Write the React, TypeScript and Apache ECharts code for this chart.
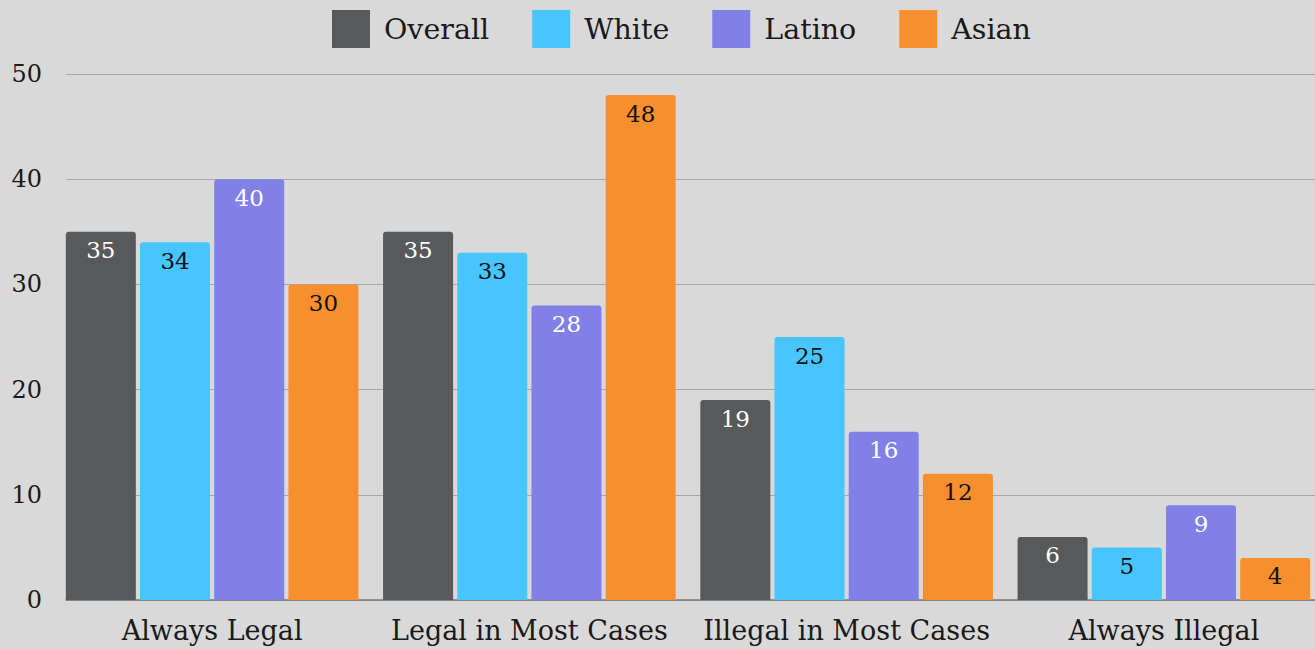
import React, { useEffect, useRef } from "react";
import * as echarts from "echarts";

const categories = ["Always Legal", "Legal in Most Cases", "Illegal in Most Cases", "Always Illegal"];
const seriesNames = ["Overall", "White", "Latino", "Asian"];
const overall = [35, 35, 19, 6];
const white = [34, 33, 25, 5];
const latino = [40, 28, 16, 9];
const asian = [30, 48, 12, 4];
const yTicks = [0, 10, 20, 30, 40, 50];

const colors = ["#58595b", "#48c4fe", "#8080e6", "#f88f2f"];
const labelColors = ["#ffffff", "#111111", "#ffffff", "#111111"];
const FONT = "DejaVu Serif";

export default function App() {
  const ref = useRef<HTMLDivElement>(null);
  useEffect(() => {
    if (!ref.current) return;
    const chart = echarts.init(ref.current, null, { renderer: "svg" });
    const values = [overall, white, latino, asian];
    chart.setOption({
      animation: false,
      backgroundColor: "#d9d9d9",
      textStyle: { fontFamily: FONT },
      legend: {
        top: 5,
        left: 327,
        itemWidth: 38,
        itemHeight: 38,
        itemGap: 43,
        icon: "rect",
        textStyle: { fontFamily: FONT, fontSize: 28.5, color: "#1a1a1a", padding: [0, 0, 0, 9] },
        data: seriesNames,
      },
      grid: [
        { left: 53.5, width: 1269, top: 74, bottom: 49, containLabel: false },
        { left: 66, right: 15, top: 74, bottom: 49, containLabel: false },
      ],
      xAxis: [
        {
          type: "category",
          gridIndex: 0,
          data: categories,
          axisLine: { show: false },
          axisTick: { show: false },
          axisLabel: { fontFamily: FONT, fontSize: 27, color: "#1a1a1a", margin: 17, interval: 0 },
        },
        {
          type: "value",
          gridIndex: 1,
          min: 0,
          max: 1,
          axisLine: { show: true, lineStyle: { color: "#7a7a7a", width: 1.5 } },
          axisTick: { show: false },
          axisLabel: { show: false },
          splitLine: { show: false },
        },
      ],
      yAxis: [
        {
          type: "value",
          gridIndex: 0,
          min: 0,
          max: 50,
          interval: 10,
          axisLabel: { show: false },
          axisLine: { show: false },
          axisTick: { show: false },
          splitLine: { show: false },
        },
        {
          type: "value",
          gridIndex: 1,
          min: yTicks[0],
          max: yTicks[yTicks.length - 1],
          interval: 10,
          axisLine: { show: false },
          axisTick: { show: false },
          axisLabel: { fontFamily: FONT, fontSize: 24, color: "#1a1a1a", margin: 24 },
          splitLine: { show: true, lineStyle: { color: "#a8a8a8", width: 1 } },
        },
      ],
      series: seriesNames.map((name, i) => ({
        name,
        type: "bar",
        xAxisIndex: 0,
        yAxisIndex: 0,
        data: values[i],
        barWidth: 70,
        barGap: "6%",
        itemStyle: { color: colors[i], borderRadius: [3, 3, 0, 0] },
        label: {
          show: true,
          position: "insideTop",
          distance: 7,
          fontFamily: FONT,
          fontSize: 23,
          color: labelColors[i],
        },
      })),
    });
    return () => chart.dispose();
  }, []);
  return (
    <div style={{ position: "absolute", left: 0, top: 0, width: 1315, height: 649, overflow: "hidden" }}>
      <div ref={ref} style={{ width: 1330, height: 649 }} />
    </div>
  );
}
